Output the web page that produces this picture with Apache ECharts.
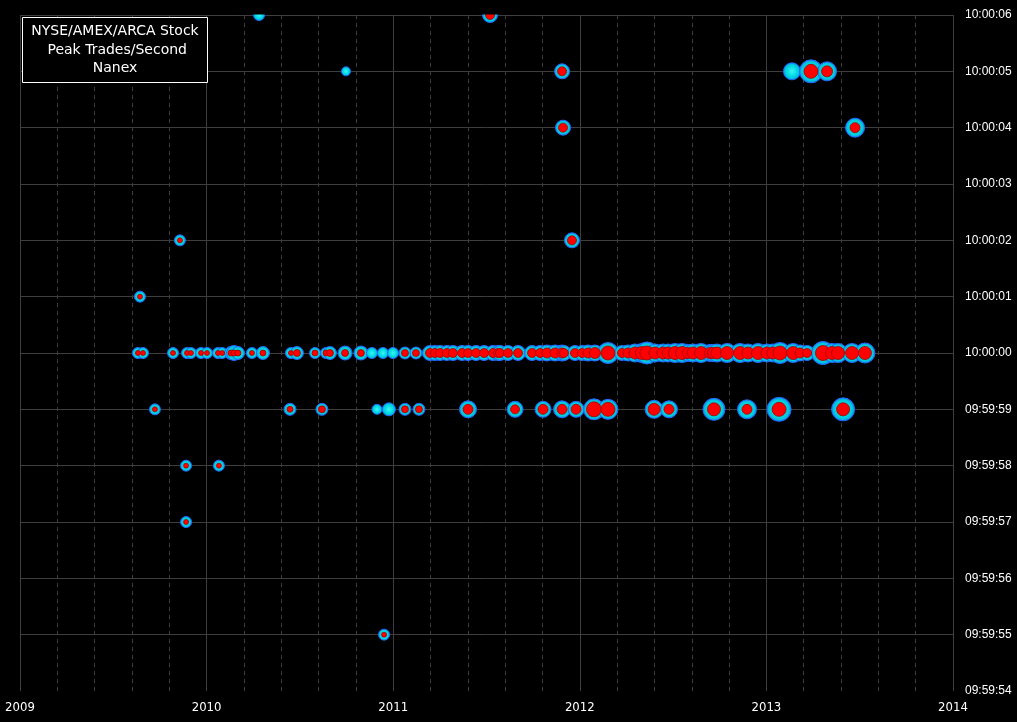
<!DOCTYPE html>
<html>
<head>
<meta charset="utf-8">
<script src="https://cdn.jsdelivr.net/npm/echarts@6/dist/echarts.min.js"></script>
<style>
html,body{margin:0;padding:0;background:#000;}
#chart{width:1017px;height:722px;}
</style>
</head>
<body>
<div id="chart"></div>
<script>
// Tick labels
const xTickLabels = ['2009', '2010', '2011', '2012', '2013', '2014'];
const yTickLabels = ['09:59:54', '09:59:55', '09:59:56', '09:59:57', '09:59:58', '09:59:59',
                     '10:00:00', '10:00:01', '10:00:02', '10:00:03', '10:00:04', '10:00:05', '10:00:06'];

// Each point: [date (decimal year), peak (outer), peak in red (inner, 0 = none)]
const row_100006 = [[2010.281, 40, 0], [2011.519, 56, 36]];
const row_100005 = [[2010.747, 32, 0], [2011.905, 56, 36], [2013.137, 64, 0], [2013.239, 88, 56], [2013.325, 72, 44]];
const row_100004 = [[2011.910, 56, 36], [2013.475, 72, 40]];
const row_100002 = [[2009.857, 40, 20], [2011.958, 56, 36]];
const row_100001 = [[2009.643, 40, 20]];
const row_100000 = [
  [2009.632, 40, 20], [2009.659, 40, 20], [2009.820, 40, 20], [2009.895, 40, 20], [2009.916, 40, 20],
  [2009.970, 40, 20], [2010.002, 40, 20], [2010.061, 40, 20], [2010.083, 40, 20], [2010.131, 48, 24],
  [2010.147, 56, 24], [2010.168, 48, 24], [2010.243, 40, 20], [2010.302, 48, 24], [2010.452, 40, 20],
  [2010.484, 48, 28], [2010.581, 40, 24], [2010.640, 40, 24], [2010.661, 48, 28], [2010.742, 52, 28],
  [2010.827, 52, 28], [2010.886, 40, 0], [2010.945, 40, 0], [2010.999, 40, 0], [2011.063, 44, 28],
  [2011.122, 44, 28], [2011.197, 56, 36], [2011.224, 56, 36], [2011.251, 56, 36], [2011.288, 56, 36],
  [2011.320, 56, 36], [2011.369, 56, 36], [2011.401, 56, 36], [2011.444, 56, 36], [2011.487, 56, 36],
  [2011.535, 56, 36], [2011.562, 56, 36], [2011.572, 56, 36], [2011.615, 56, 36], [2011.669, 56, 36],
  [2011.744, 56, 36], [2011.787, 56, 36], [2011.824, 60, 40], [2011.867, 60, 40], [2011.905, 60, 40],
  [2011.915, 56, 36], [2011.974, 56, 36], [2012.012, 56, 36], [2012.044, 60, 40], [2012.081, 60, 44],
  [2012.151, 80, 56], [2012.226, 56, 36], [2012.258, 60, 40], [2012.296, 68, 48], [2012.333, 72, 52],
  [2012.360, 84, 56], [2012.403, 68, 48], [2012.446, 68, 48], [2012.473, 68, 48], [2012.510, 72, 52],
  [2012.548, 72, 52], [2012.580, 64, 44], [2012.607, 68, 48], [2012.650, 72, 52], [2012.698, 64, 44],
  [2012.714, 64, 44], [2012.735, 68, 48], [2012.789, 72, 52], [2012.859, 72, 52], [2012.901, 68, 48],
  [2012.955, 72, 52], [2013.003, 68, 48], [2013.035, 68, 48], [2013.073, 80, 56], [2013.143, 72, 52],
  [2013.180, 60, 40], [2013.218, 56, 36], [2013.303, 88, 60], [2013.352, 72, 52], [2013.384, 72, 52],
  [2013.459, 72, 52], [2013.528, 76, 52]
];
const row_095959 = [
  [2009.723, 40, 20], [2010.447, 44, 24], [2010.618, 44, 28], [2010.913, 36, 0], [2010.977, 48, 0],
  [2011.063, 44, 28], [2011.138, 44, 28], [2011.401, 64, 40], [2011.653, 60, 36], [2011.803, 60, 40],
  [2011.905, 64, 40], [2011.980, 60, 40], [2012.076, 80, 60], [2012.151, 76, 56], [2012.398, 68, 48],
  [2012.478, 64, 40], [2012.719, 84, 52], [2012.896, 72, 40], [2013.068, 92, 56], [2013.411, 88, 52]
];
const row_095958 = [[2009.890, 40, 20], [2010.066, 40, 20]];
const row_095957 = [[2009.890, 40, 20]];
const row_095955 = [[2010.951, 40, 20]];

const rowSeconds = [6, 5, 4, 2, 1, 0, -1, -2, -3, -5];
const rowData = [row_100006, row_100005, row_100004, row_100002, row_100001, row_100000,
                 row_095959, row_095958, row_095957, row_095955];

const points = [];
rowData.forEach(function (row, i) {
  row.forEach(function (p) { points.push([p[0], rowSeconds[i], p[1], p[2]]); });
});
const redPoints = points.filter(function (p) { return p[3] > 0; });

const gridColor = '#3e3e3e';
const chart = echarts.init(document.getElementById('chart'));
chart.setOption({
  backgroundColor: '#000',
  animation: false,
  grid: { left: 20, right: 64, top: 15, bottom: 31, containLabel: false },
  xAxis: {
    type: 'value', min: 2009, max: 2014, interval: 1,
    axisLine: { show: false }, axisTick: { show: false },
    axisLabel: {
      color: '#fff', fontFamily: 'DejaVu Sans Condensed, Liberation Sans Narrow, sans-serif', fontSize: 13, margin: 10,
      formatter: function (v) { return xTickLabels[Math.round(v - 2009)]; }
    },
    splitLine: { show: true, lineStyle: { color: gridColor, width: 1 } },
    minorTick: { show: false, splitNumber: 5 },
    minorSplitLine: { show: true, lineStyle: { color: gridColor, width: 1, type: [4, 4] } }
  },
  yAxis: {
    type: 'value', min: -6, max: 6, interval: 1, position: 'right',
    axisLine: { show: false }, axisTick: { show: false },
    axisLabel: {
      color: '#fff', fontFamily: 'Liberation Sans, sans-serif', fontSize: 12, margin: 12,
      formatter: function (v) { return yTickLabels[Math.round(v + 6)]; }
    },
    splitLine: { show: true, showMinLine: false, lineStyle: { color: gridColor, width: 1 } }
  },
  graphic: [
    { type: 'rect', left: 20, top: 0, z: 90, silent: true,
      shape: { width: 934, height: 14.5 },
      style: { fill: '#000' } },
    { type: 'rect', left: 22, top: 17, z: 100,
      shape: { width: 185, height: 65 },
      style: { fill: '#000', stroke: '#fff', lineWidth: 1 } },
    { type: 'text', x: 115, y: 50, z: 101,
      style: { text: 'NYSE/AMEX/ARCA Stock\n Peak Trades/Second\nNanex', fill: '#fff',
               font: '14px "DejaVu Sans", sans-serif', align: 'center', verticalAlign: 'middle', lineHeight: 18.5 } }
  ],
  series: [
    {
      type: 'scatter', data: points, clip: true, silent: true,
      symbolSize: function (d) { return d[2] / 4 + 1; },
      itemStyle: {
        color: new echarts.graphic.RadialGradient(0.5, 0.5, 0.5, [
          { offset: 0, color: '#40f4f4' },
          { offset: 0.55, color: '#00dce4' },
          { offset: 0.8, color: '#00c4dc' },
          { offset: 1, color: '#1878ff' }
        ]),
        borderColor: '#1e6cff', borderWidth: 1, opacity: 1
      }
    },
    {
      type: 'scatter', data: redPoints, clip: true, silent: true,
      symbolSize: function (d) { return d[3] / 4; },
      itemStyle: { color: '#ff0000', borderColor: '#a00000', borderWidth: 0.8, opacity: 1 }
    }
  ]
});
</script>
</body>
</html>
